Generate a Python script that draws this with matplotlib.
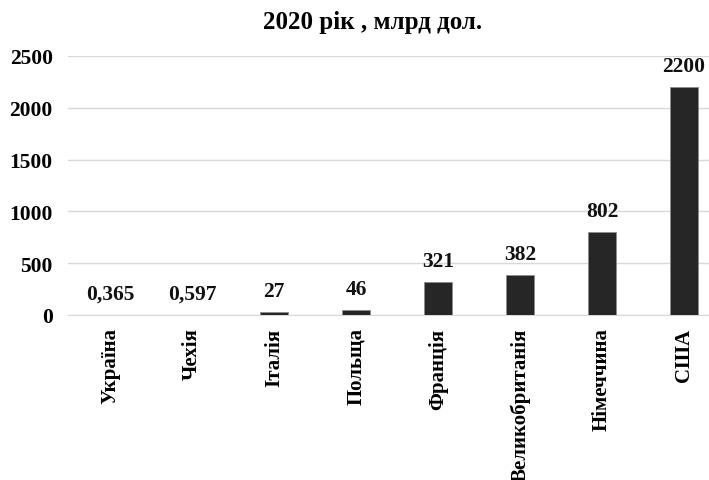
import matplotlib
matplotlib.use("Agg")
import matplotlib.pyplot as plt

countries = ["Україна", "Чехія", "Італія", "Польща", "Франція",
             "Великобританія", "Німеччина", "США"]
values = [0.365, 0.597, 27, 46, 321, 382, 802, 2200]
value_labels = ["0,365", "0,597", "27", "46", "321", "382", "802", "2200"]
y_ticks = [0, 500, 1000, 1500, 2000, 2500]

plt.rcParams["font.family"] = ["Liberation Serif", "DejaVu Serif"]
plt.rcParams["font.weight"] = "bold"

fig = plt.figure(figsize=(7.09, 4.81), dpi=100)
ax = fig.add_axes([68 / 709, 165 / 481, 641 / 709, 259 / 481])

x = list(range(len(countries)))
ax.bar(x, values, width=0.33, color="#262626", edgecolor="#8c8c8c",
       linewidth=0.6, zorder=3)

for xi, v, lab in zip(x, values, value_labels):
    ax.annotate(lab, (xi, v), xytext=(0, 8), textcoords="offset points",
                ha="center", va="bottom", fontsize=15.5, fontweight="bold",
                color="#111111")

ax.set_ylim(0, 2500)
ax.set_xlim(-0.512, 7.305)
ax.set_yticks(y_ticks)
ax.set_yticklabels([str(t) for t in y_ticks], fontsize=15.5, fontweight="bold")
ax.set_xticks(x)
ax.set_xticklabels(countries, rotation=90, fontsize=15, fontweight="bold")
ax.tick_params(axis="y", length=0, pad=11)
ax.tick_params(axis="x", length=0, pad=9)

ax.grid(axis="y", color="#d9d9d9", linewidth=1.0, zorder=0)
for side in ["top", "right", "left"]:
    ax.spines[side].set_visible(False)
ax.spines["bottom"].set_color("#d9d9d9")

fig.text(373 / 709, 1 - 22 / 481, "2020 рік , млрд дол.", ha="center",
         va="center", fontsize=18, fontweight="bold")

fig.savefig("out.png", dpi=100)
